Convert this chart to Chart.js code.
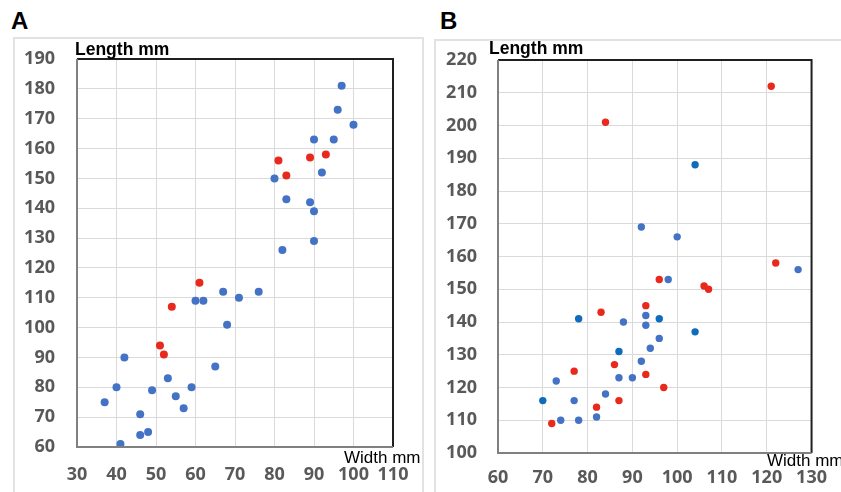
<!DOCTYPE html>
<html>
<head>
<meta charset="utf-8">
<script src="https://cdn.jsdelivr.net/npm/chart.js@4.4.1/dist/chart.umd.min.js"></script>
<style>
html,body{margin:0;padding:0;background:#fff;}
body{width:841px;height:492px;position:relative;overflow:hidden;font-family:"Liberation Sans",Arial,sans-serif;}
.frame{position:absolute;border:2px solid #e2e2e2;box-sizing:border-box;}
.panel-tag{position:absolute;font-weight:700;font-size:24px;line-height:24px;color:#000;}
.ytitle{position:absolute;font-weight:700;font-size:17.5px;line-height:17px;color:#000;white-space:nowrap;}
.xtitle{position:absolute;font-size:17px;line-height:16px;color:#000;white-space:nowrap;}
canvas{position:absolute;top:0;}
</style>
</head>
<body>
<div class="frame" style="left:13px;top:37px;width:411px;height:470px"></div>
<div class="frame" style="left:434px;top:39px;width:420px;height:470px"></div>
<div class="panel-tag" style="left:11px;top:9px">A</div>
<div class="panel-tag" style="left:440px;top:9px">B</div>
<div style="position:absolute;left:0;top:0;width:430px;height:492px"><canvas id="chartA"></canvas></div>
<div style="position:absolute;left:430px;top:0;width:411px;height:492px"><canvas id="chartB"></canvas></div>
<div class="ytitle" style="left:75px;top:41px">Length mm</div>
<div class="ytitle" style="left:489px;top:40px">Length mm</div>
<div class="xtitle" style="left:344px;top:450px">Width mm</div>
<div class="xtitle" style="left:767px;top:453px">Width mm</div>
<script>
'use strict';
// panel A
const aBlueWidth=[97,96,100,90,95,92,80,83,89,90,90,82,67,76,60,62,71,68,42,65,53,40,59,49,55,37,57,46,48,46,41];
const aBlueLength=[181,173,168,163,163,152,150,143,142,139,129,126,112,112,109,109,110,101,90,87,83,80,80,79,77,75,73,71,65,64,61];
const aRedWidth=[81,89,93,83,61,54,51,52];
const aRedLength=[156,157,158,151,115,107,94,91];
const aWidthTicks=[30,40,50,60,70,80,90,100,110];
const aLengthTicks=[60,70,80,90,100,110,120,130,140,150,160,170,180,190];

// panel B
const bBlueWidth=[92,100,127,98,93,88,93,96,94,92,87,90,73,84,77,82,74,78];
const bBlueLength=[169,166,156,153,142,140,139,135,132,128,123,123,122,118,116,111,110,110];
const bDarkWidth=[104,78,96,104,87,70];
const bDarkLength=[188,141,141,137,131,116];
const bRedWidth=[84,121,122,96,106,107,93,83,86,77,93,97,87,82,72];
const bRedLength=[201,212,158,153,151,150,145,143,127,125,124,120,116,114,109];
const bWidthTicks=[60,70,80,90,100,110,120,130];
const bLengthTicks=[100,110,120,130,140,150,160,170,180,190,200,210,220];

const BLUE='#4472c4', DARK='#0f6cbd', RED='#e8291c';
const pts=(xs,ys)=>xs.map((x,i)=>({x,y:ys[i]}));

const plotFrame={
  id:'plotFrame',
  afterDraw(chart){
    const {ctx,chartArea:a}=chart;
    ctx.save();
    ctx.lineWidth=2;
    ctx.strokeStyle='#1f1f1f';
    ctx.beginPath();ctx.moveTo(a.left,a.top);ctx.lineTo(a.right,a.top);ctx.lineTo(a.right,a.bottom);ctx.stroke();
    ctx.strokeStyle='#808080';
    ctx.beginPath();ctx.moveTo(a.left,a.top);ctx.lineTo(a.left,a.bottom);ctx.lineTo(a.right,a.bottom);ctx.stroke();
    ctx.restore();
  }
};

function makeChart(id,sets,xTicks,yTicks,o){
  const tickFont={family:'"Open Sans", "Liberation Sans", sans-serif',size:18,weight:'700'};
  return new Chart(document.getElementById(id),{
    type:'scatter',
    data:{datasets:sets.map(s=>({data:s.data,backgroundColor:s.color,borderWidth:0,pointRadius:o.r,pointHoverRadius:o.r}))},
    options:{
      responsive:true,maintainAspectRatio:false,animation:false,
      layout:{padding:{left:0,top:o.top,right:o.right,bottom:0}},
      plugins:{legend:{display:false},tooltip:{enabled:false}},
      scales:{
        x:{type:'linear',min:xTicks[0],max:xTicks[xTicks.length-1],
          afterBuildTicks:s=>{s.ticks=xTicks.map(v=>({value:v}));},
          afterFit:s=>{s.height=o.xh;},
          ticks:{color:'#595959',font:tickFont,padding:o.xpad,maxRotation:0,autoSkip:false},
          grid:{color:'#dadada',lineWidth:1,drawTicks:false},border:{display:false}},
        y:{type:'linear',min:yTicks[0],max:yTicks[yTicks.length-1],
          afterBuildTicks:s=>{s.ticks=yTicks.map(v=>({value:v}));},
          afterFit:s=>{s.width=o.yw;},
          ticks:{color:'#595959',font:tickFont,padding:o.ypad,autoSkip:false},
          grid:{color:'#dadada',lineWidth:1,drawTicks:false},border:{display:false}}
      }
    },
    plugins:[plotFrame]
  });
}

makeChart('chartA',[
  {data:pts(aBlueWidth,aBlueLength),color:BLUE},
  {data:pts(aRedWidth,aRedLength),color:RED}
],aWidthTicks,aLengthTicks,{r:4,top:59,right:37,xh:45,yw:77,xpad:17,ypad:22});

makeChart('chartB',[
  {data:pts(bBlueWidth,bBlueLength),color:BLUE},
  {data:pts(bDarkWidth,bDarkLength),color:DARK},
  {data:pts(bRedWidth,bRedLength),color:RED}
],bWidthTicks,bLengthTicks,{r:3.7,top:60,right:24,xh:39,yw:68,xpad:14,ypad:21});
</script>
</body>
</html>
